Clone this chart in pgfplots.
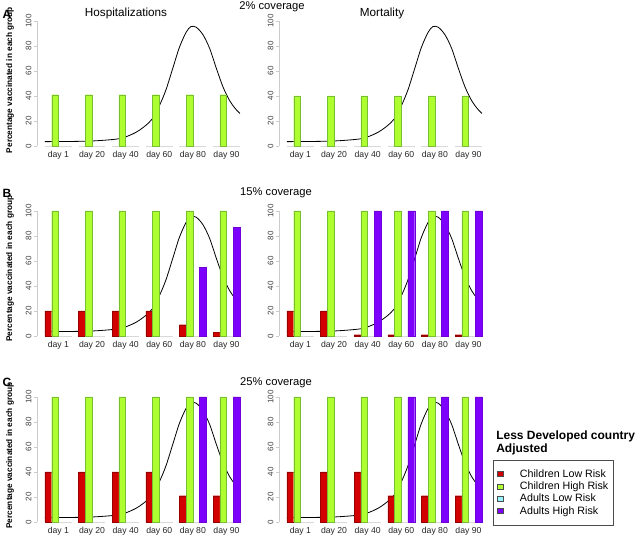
\documentclass[border=0pt]{standalone}
\usepackage{pgfplots}
\pgfplotsset{compat=1.18}
\usepackage{pgfplotstable}
\usepackage{fontspec}
\setmainfont{Liberation Sans}

\definecolor{clr}{RGB}{210,0,0}
\definecolor{clrb}{RGB}{150,0,0}
\definecolor{chr}{RGB}{173,255,47}
\definecolor{chrb}{RGB}{120,190,50}
\definecolor{alr}{RGB}{150,245,255}
\definecolor{alrb}{RGB}{90,160,170}
\definecolor{ahr}{RGB}{125,0,255}
\definecolor{ahrb}{RGB}{110,0,220}

% epidemic curve (x in bar units, y in percent of peak scale)
\pgfplotstableread{
u y
1 3.5
4 3.6
8 4
12 5.8
14 9.5
15 12.5
16 16.5
17 22
18 32
19 45
20 62
21 79
22 91
22.7 95.5
23.5 95
24.5 89
25.5 78
26.5 62
27.5 47
28.5 36
29.3 30
30 26
}\curve

% g = day index (day 1,20,40,60,80,90)
\pgfplotstableread{
g CLR CHR ALR AHR
0 0 41 0 0
1 0 41 0 0
2 0 41 0 0
3 0 41 0 0
4 0 41 0 0
5 0 41 0 0
}\hospA
\pgfplotstableread{
g CLR CHR ALR AHR
0 0 40 0 0
1 0 40 0 0
2 0 40 0 0
3 0 40 0 0
4 0 40 0 0
5 0 40 0 0
}\mortA
\pgfplotstableread{
g CLR CHR ALR AHR
0 20 100 0 0
1 20 100 0 0
2 20 100 0 0
3 20 100 0 0
4 9 100 0 55
5 3 100 0 87
}\hospB
\pgfplotstableread{
g CLR CHR ALR AHR
0 20 100 0 0
1 20 100 0 0
2 1 100 0 100
3 1 100 0 100
4 1 100 0 100
5 1 100 0 100
}\mortB
\pgfplotstableread{
g CLR CHR ALR AHR
0 40 100 0 0
1 40 100 0 0
2 40 100 0 0
3 40 100 0 0
4 21 100 0 100
5 21 100 0 100
}\hospC
\pgfplotstableread{
g CLR CHR ALR AHR
0 40 100 0 0
1 40 100 0 0
2 40 100 0 0
3 21 100 0 100
4 21 100 0 100
5 21 100 0 100
}\mortC

\pgfplotsset{panel/.style={
  scale only axis, width=157.9pt, height=93.75pt,
  xmin=-0.16, xmax=31.16, ymin=0, ymax=100, clip=false,
  axis y line*=left, axis x line*=bottom,
  x axis line style={draw=none},
  y axis line style={draw=gray!40, line width=0.5pt},
  ytick={0,20,40,60,80,100},
  xtick={3,8,13,18,23,28},
  xticklabels={day 1,day 20,day 40,day 60,day 80,day 90},
  tick align=outside, major tick length=2.5pt,
  ytick style={draw=gray!40, line width=0.5pt},
  xtick style={draw=none},
  yticklabel style={rotate=90, anchor=south, font=\fontsize{6}{7}\selectfont, text=black!75},
  yticklabel shift=-1.8pt,
  xticklabel style={font=\fontsize{6.5}{7}\selectfont, text=black!85},
  xticklabel shift=-2pt,
  /pgf/number format/assume math mode=true,
  legend image code/.code={\draw[##1] (0pt,-1.9pt) rectangle (3.8pt,1.9pt);},
}}

\newcommand{\zerolines}{%
  \addplot[gray!30, line width=0.6pt, forget plot, unbounded coords=jump] coordinates {
    (1,0)(5,0) (5.5,nan) (6,0)(10,0) (10.5,nan) (11,0)(15,0) (15.5,nan)
    (16,0)(20,0) (20.5,nan) (21,0)(25,0) (25.5,nan) (26,0)(30,0)};
}
\newcommand{\curveplot}{%
  \addplot[black, line width=0.6pt, smooth, forget plot] table[x=u, y=y]{\curve};
}
\newcommand{\bars}[1]{%
  \addplot[ybar, bar width=1, bar shift=0pt, fill=clr, draw=clrb, line width=0.3pt, forget plot,
    restrict y to domain=0.5:200] table[x expr=\thisrow{g}*5+1.5, y=CLR]{#1};
  \addplot[ybar, bar width=1, bar shift=0pt, fill=chr, draw=chrb, line width=0.3pt, forget plot,
    restrict y to domain=0.5:200] table[x expr=\thisrow{g}*5+2.5, y=CHR]{#1};
  \addplot[ybar, bar width=1, bar shift=0pt, fill=alr, draw=alrb, line width=0.3pt, forget plot,
    restrict y to domain=0.5:200] table[x expr=\thisrow{g}*5+3.5, y=ALR]{#1};
  \addplot[ybar, bar width=1, bar shift=0pt, fill=ahr, draw=ahrb, line width=0.3pt, forget plot,
    restrict y to domain=0.5:200] table[x expr=\thisrow{g}*5+4.5, y=AHR]{#1};
}

\begin{document}
\begin{tikzpicture}
\useasboundingbox (0pt,0pt) rectangle (477pt,401.25pt);

% Row A
\begin{axis}[panel, at={(27.9pt,291.75pt)}, anchor=south west]
  \zerolines \curveplot \bars{\hospA}
\end{axis}
\begin{axis}[panel, at={(209.4pt,291.75pt)}, anchor=south west]
  \zerolines \curveplot \bars{\mortA}
\end{axis}
% Row B
\begin{axis}[panel, at={(27.9pt,149.25pt)}, anchor=south west]
  \zerolines \curveplot \bars{\hospB}
\end{axis}
\begin{axis}[panel, at={(209.4pt,149.25pt)}, anchor=south west]
  \zerolines \curveplot \bars{\mortB}
\end{axis}
% Row C
\begin{axis}[panel, at={(27.9pt,9.75pt)}, anchor=south west]
  \zerolines \curveplot \bars{\hospC}
\end{axis}
\begin{axis}[panel, at={(209.4pt,9.75pt)}, anchor=south west,
  legend style={at={(1.016,0.497)}, anchor=north west, draw=black!70, line width=0.5pt,
    font=\fontsize{8}{9}\selectfont, legend cell align=left,
    inner xsep=3pt, inner ysep=6pt, row sep=0.5pt,
    nodes={inner sep=0.6pt, text height=6pt, text depth=1.6pt},
    /tikz/every odd column/.append style={column sep=12pt}}]
  \zerolines \curveplot \bars{\mortC}
  \addlegendimage{fill=clr, draw=black!70}
  \addlegendimage{fill=chr, draw=black!70}
  \addlegendimage{fill=alr, draw=black!70}
  \addlegendimage{fill=ahr, draw=black!70}
  \legend{Children Low Risk, Children High Risk, Adults Low Risk, Adults High Risk}
\end{axis}

\begin{scope}[x=0.75pt, y=0.75pt]
% titles and labels
\node[font=\fontsize{8.8}{10}\selectfont] at (126,522) {Hospitalizations};
\node[font=\fontsize{8.8}{10}\selectfont] at (382,522) {Mortality};
\node[font=\fontsize{8.4}{10}\selectfont] at (272,528) {2\% coverage};
\node[font=\fontsize{8.4}{10}\selectfont] at (276,342) {15\% coverage};
\node[font=\fontsize{8.4}{10}\selectfont] at (276,152) {25\% coverage};
\node[font=\bfseries\fontsize{9}{10}\selectfont] at (7,521) {A};
\node[font=\bfseries\fontsize{9}{10}\selectfont] at (7,342) {B};
\node[font=\bfseries\fontsize{9}{10}\selectfont] at (7,153) {C};
\node[rotate=90, font=\bfseries\fontsize{6.2}{7}\selectfont] at (10,455) {Percentage vaccinated in each group};
\node[rotate=90, font=\bfseries\fontsize{6.2}{7}\selectfont] at (10,266.5) {Percentage vaccinated in each group};
\node[rotate=90, font=\bfseries\fontsize{6.2}{7}\selectfont] at (10,79.5) {Percentage vaccinated in each group};
\node[anchor=north west, align=left, inner sep=0pt, font=\bfseries\fontsize{9}{9.75}\selectfont] at (496,104) {Less Developed country\\Adjusted};
\end{scope}
\end{tikzpicture}
\end{document}
